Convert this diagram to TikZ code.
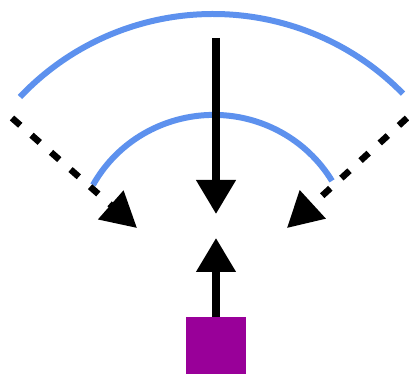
\documentclass[tikz,border=0pt]{standalone}
\usetikzlibrary{arrows.meta}
\definecolor{wave}{RGB}{93,145,238}
\definecolor{src}{RGB}{153,0,153}
\tikzset{
  wavearc/.style={draw=wave, line width=6pt},
  solidarrow/.style={draw=black, line width=7.5pt, -{Triangle[width=38pt,length=34pt]}},
  dasharrow/.style={draw=black, line width=6.5pt, dash pattern=on 11pt off 15pt, -{Triangle[width=37pt,length=35pt]}},
  srcbox/.style={fill=src, draw=none, minimum width=60pt, minimum height=57pt, inner sep=0pt, outer sep=0pt}
}
\begin{document}
\begin{tikzpicture}[x=1pt,y=1pt]
  \fill[white] (0,0) rectangle (409,374);
  \useasboundingbox (0,0) rectangle (409,374);
  % source
  \node[srcbox, anchor=south] (source) at (216,0) {};
  % named points
  \coordinate (topstart) at (216,336);
  \coordinate (downtip) at (216,160);
  \coordinate (uptip) at (216,136);
  \coordinate (lstart) at (12,256);
  \coordinate (ltip) at (137,146);
  \coordinate (rstart) at (407,256);
  \coordinate (rtip) at (287,146);
  % wave fronts
  \draw[wavearc] (20,277) arc[start angle=137, end angle=44, x radius=264pt, y radius=261pt];
  \draw[wavearc] (93,189) arc[start angle=151, end angle=31, x radius=138pt, y radius=136pt];
  % arrows
  \draw[solidarrow] (topstart) -- (downtip);
  \draw[solidarrow] (source.north) -- (uptip);
  \draw[dasharrow] (lstart) -- (ltip);
  \draw[dasharrow] (rstart) -- (rtip);
\end{tikzpicture}
\end{document}
